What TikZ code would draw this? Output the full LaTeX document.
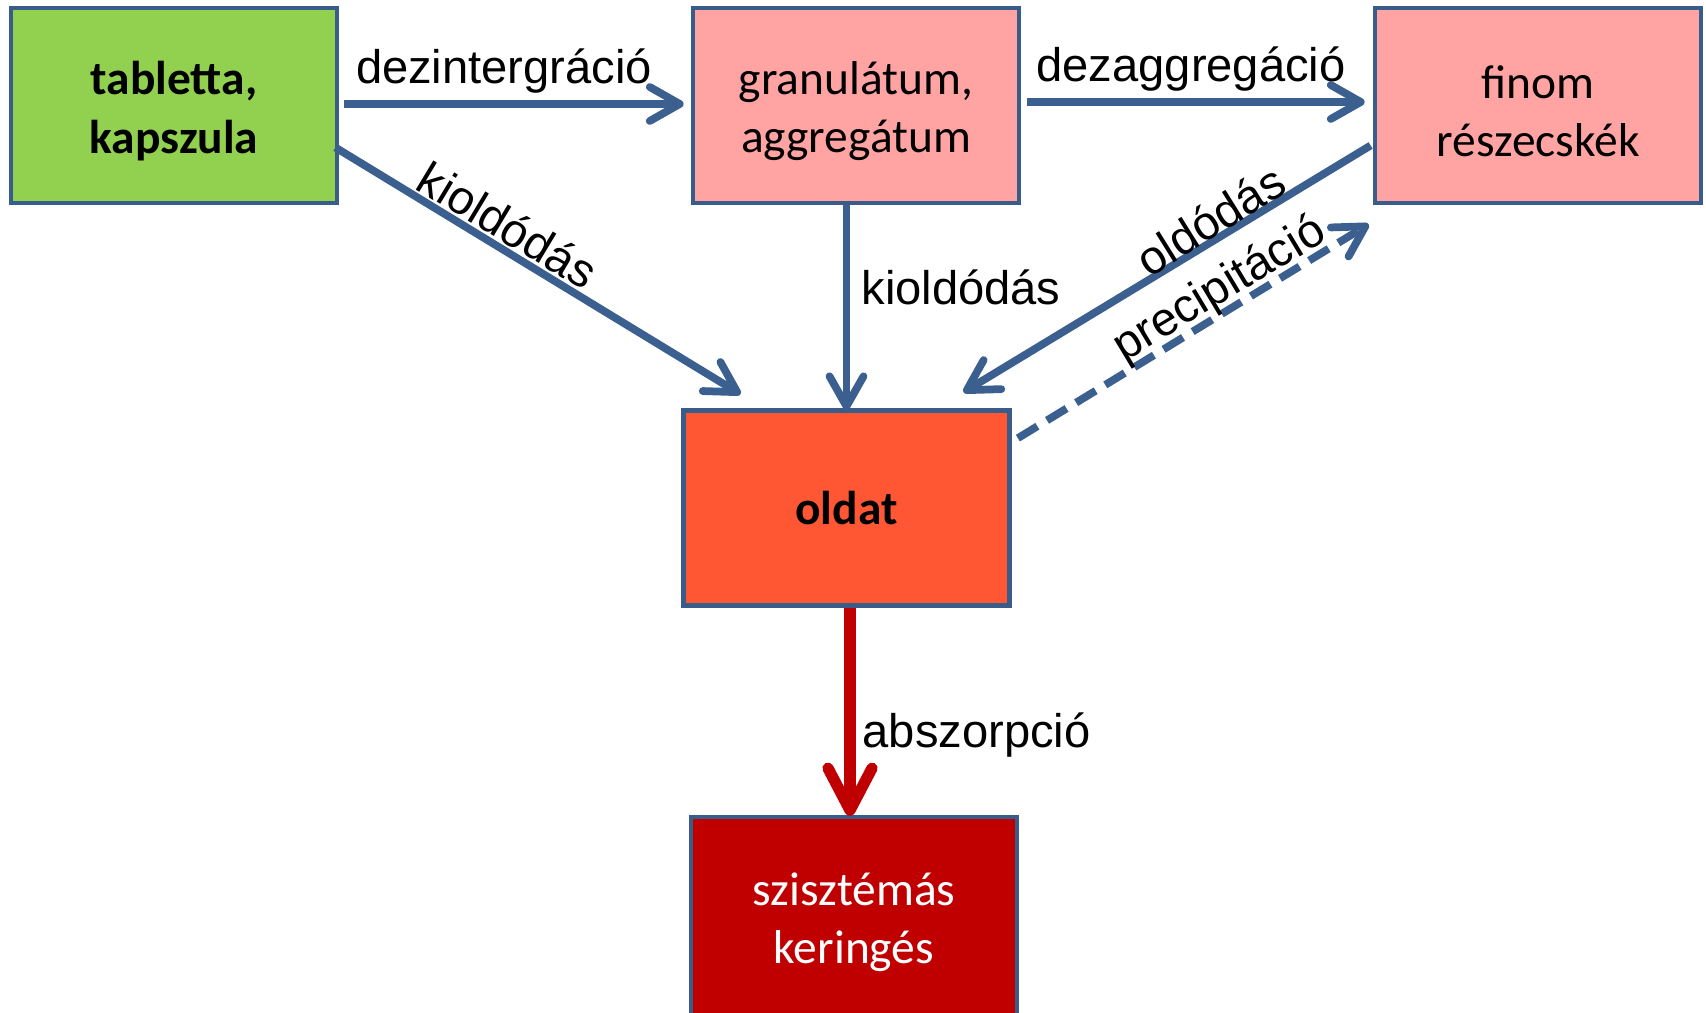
\documentclass[tikz,border=0pt]{standalone}
\usepackage{fontspec}
\setmainfont{Carlito}
\newfontfamily\lblfont{Liberation Sans}
\usetikzlibrary{arrows.meta,calc}
\definecolor{bordblue}{HTML}{385D8A}
\definecolor{arrblue}{HTML}{3B5F8F}
\definecolor{boxgreen}{HTML}{92D050}
\definecolor{boxpink}{HTML}{FFA3A3}
\definecolor{boxorange}{HTML}{FF5733}
\definecolor{boxred}{HTML}{C00000}
\newcommand{\topstrut}{\rule{0pt}{12.6pt}}
\begin{document}
\begin{tikzpicture}[x=0.01cm,y=-0.01cm,
  box/.style={draw=bordblue,line width=1.3pt,minimum width=3.26cm,minimum height=1.95cm,inner sep=0pt,align=center,font=\fontsize{13.5}{16.6}\selectfont},
  arr/.style={draw=arrblue,line width=2.2pt,-{Straight Barb[length=0.3cm,width=0.34cm,round]}},
  dasharr/.style={arr,dash pattern=on 6.5pt off 3.2pt},
  redarr/.style={draw=boxred,line width=3.2pt,-{Straight Barb[length=0.42cm,width=0.44cm,round]}},
  lbl/.style={font=\lblfont\fontsize{13.4}{16}\selectfont,inner sep=0pt}]
\useasboundingbox (0,0) rectangle (1706,1013);
\clip (0,0) rectangle (1706,1013);
\node[box,fill=boxgreen,font=\bfseries\fontsize{13.5}{16.6}\selectfont] (tab) at (174,105.5) {\topstrut tabletta,\\kapszula};
\node[box,fill=boxpink] (gran) at (856,105.5) {\topstrut granulátum,\\aggregátum};
\node[box,fill=boxpink] (fin) at (1538,105.5) {\topstrut finom\\részecskék};
\node[box,fill=boxorange,font=\bfseries\fontsize{13.5}{16.6}\selectfont] (old) at (846.5,508) {oldat};
\node[box,fill=boxred,text=white,minimum height=2.1cm] (szi) at (854,922) {szisztémás\\keringés};
\coordinate (szitop) at (854,817);
% connectors
\draw[arr] ($(tab.east)+(5,-1.5)$) -- ($(gran.west)+(-7,-1.5)$);
\draw[arr] ($(gran.east)+(6,-3.5)$) -- ($(fin.west)+(-8,-3.5)$);
\draw[arr] ($(tab.east)+(-4,42)$) -- ($(old.north)+(-106,-14)$);
\draw[arr] (gran.south -| old.north) -- ($(old.north)+(0,2)$);
\draw[arr] ($(fin.west)+(-2,40)$) -- ($(old.north)+(117,-16)$);
\draw[dasharr] ($(old.north east)+(6,30)$) -- ($(fin.south west)+(-4,19)$);
\draw[redarr] ($(old.south)+(3.5,0)$) -- ($(old.south -| szitop)+(-4,208)$);
% labels
\node[lbl] (l1) at (504,71.5) {dezintergráció};
\node[lbl] (l2) at (1191,69.5) {dezaggregáció};
\node[lbl,rotate=-31] (l3) at (508,225) {kioldódás};
\node[lbl] (l4) at (961,287) {kioldódás};
\node[lbl,rotate=32] (l5) at (1210,220) {oldódás};
\node[lbl,rotate=31] (l6) at (1220,290) {precipitáció};
\node[lbl,anchor=west] (l7) at (862,735) {abszorpció};
\end{tikzpicture}
\end{document}
